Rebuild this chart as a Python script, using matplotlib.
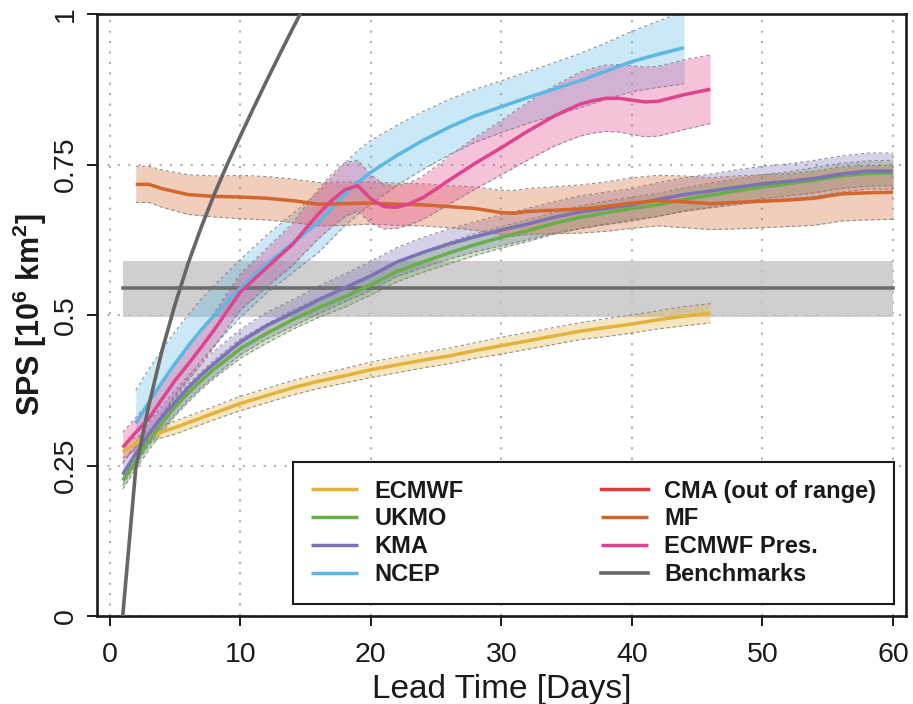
import matplotlib
matplotlib.use('Agg')
import matplotlib.pyplot as plt
import numpy as np

plt.rcParams['font.family'] = ['Liberation Sans', 'DejaVu Sans']
plt.rcParams['mathtext.fontset'] = 'custom'
plt.rcParams['mathtext.rm'] = 'Liberation Sans'
plt.rcParams['mathtext.bf'] = 'Liberation Sans:bold'

# ---- data ----
ecmwf_days = [1, 2, 3, 4, 5, 6, 8, 10, 12, 14, 16, 18, 20, 22, 24, 26, 28, 30,
              32, 34, 36, 38, 40, 42, 44, 46]
ecmwf_sps = [0.272, 0.287, 0.298, 0.306, 0.313, 0.321, 0.337, 0.353, 0.366, 0.379,
             0.390, 0.399, 0.409, 0.417, 0.425, 0.432, 0.441, 0.449, 0.457, 0.465,
             0.473, 0.479, 0.485, 0.492, 0.498, 0.503]
ecmwf_spread = [0.010, 0.010, 0.010, 0.010, 0.011, 0.011, 0.011, 0.012, 0.012, 0.012,
                0.012, 0.012, 0.013, 0.013, 0.013, 0.013, 0.013, 0.014, 0.014, 0.014,
                0.014, 0.015, 0.015, 0.015, 0.016, 0.016]

long_days = [1, 2, 3, 4, 5, 6, 7, 8, 10, 12, 14, 16, 18, 20, 22, 24, 26, 28, 30,
             32, 34, 36, 38, 40, 42, 44, 46, 48, 50, 52, 54, 56, 58, 60]
ukmo_sps = [0.225, 0.258, 0.291, 0.320, 0.347, 0.370, 0.391, 0.410, 0.444, 0.469,
            0.492, 0.512, 0.530, 0.550, 0.572, 0.588, 0.603, 0.617, 0.629, 0.640,
            0.652, 0.662, 0.670, 0.677, 0.683, 0.692, 0.699, 0.706, 0.713, 0.718,
            0.724, 0.731, 0.735, 0.736]
ukmo_spread = [0.014, 0.014, 0.015, 0.015, 0.015, 0.015, 0.015, 0.015, 0.016, 0.016,
               0.016, 0.016, 0.017, 0.017, 0.017, 0.017, 0.018, 0.018, 0.018, 0.018,
               0.018, 0.019, 0.019, 0.019, 0.019, 0.019, 0.020, 0.020, 0.020, 0.020,
               0.021, 0.021, 0.021, 0.021]
kma_sps = [0.235, 0.270, 0.302, 0.330, 0.355, 0.379, 0.400, 0.419, 0.455, 0.482,
           0.503, 0.525, 0.545, 0.565, 0.588, 0.604, 0.618, 0.630, 0.641, 0.651,
           0.662, 0.671, 0.677, 0.683, 0.692, 0.700, 0.706, 0.712, 0.718, 0.722,
           0.727, 0.734, 0.739, 0.739]
kma_spread = [0.018, 0.018, 0.019, 0.019, 0.020, 0.020, 0.020, 0.021, 0.021, 0.022,
              0.022, 0.023, 0.023, 0.024, 0.024, 0.025, 0.025, 0.025, 0.026, 0.026,
              0.026, 0.027, 0.027, 0.027, 0.028, 0.028, 0.028, 0.029, 0.029, 0.029,
              0.030, 0.030, 0.030, 0.030]

ncep_days = [2, 3, 4, 5, 6, 7, 8, 10, 12, 14, 16, 18, 19, 20, 22, 24, 26, 28, 30,
             32, 34, 36, 38, 40, 42, 44]
ncep_sps = [0.320, 0.355, 0.388, 0.419, 0.448, 0.475, 0.499, 0.544, 0.584, 0.619,
            0.654, 0.700, 0.720, 0.737, 0.765, 0.790, 0.812, 0.831, 0.846, 0.861,
            0.875, 0.889, 0.905, 0.921, 0.933, 0.944]
ncep_spread = [0.055, 0.055, 0.054, 0.053, 0.052, 0.051, 0.050, 0.048, 0.048, 0.049,
               0.050, 0.052, 0.053, 0.053, 0.050, 0.048, 0.046, 0.044, 0.043, 0.043,
               0.044, 0.045, 0.047, 0.050, 0.055, 0.060]

mf_days = [2, 3, 4, 5, 6, 8, 10, 12, 14, 16, 18, 20, 22, 24, 26, 28, 30, 31, 32,
           34, 36, 38, 40, 42, 44, 46, 48, 50, 52, 54, 56, 58, 60]
mf_sps = [0.717, 0.717, 0.710, 0.705, 0.700, 0.697, 0.696, 0.694, 0.690, 0.684,
          0.685, 0.686, 0.684, 0.683, 0.680, 0.677, 0.670, 0.669, 0.672, 0.674,
          0.676, 0.680, 0.686, 0.690, 0.688, 0.685, 0.687, 0.689, 0.691, 0.694,
          0.701, 0.703, 0.704]
mf_spread = [0.030, 0.030, 0.031, 0.032, 0.033, 0.034, 0.036, 0.036, 0.036, 0.036,
             0.036, 0.035, 0.035, 0.035, 0.035, 0.036, 0.037, 0.038, 0.038, 0.039,
             0.040, 0.041, 0.042, 0.042, 0.043, 0.043, 0.044, 0.044, 0.044, 0.045,
             0.045, 0.045, 0.045]

pres_days = [1, 2, 3, 4, 5, 6, 7, 8, 10, 12, 14, 15, 16, 17, 18, 19, 20, 21, 22,
             23, 24, 25, 26, 28, 30, 32, 34, 36, 37, 38, 39, 40, 41, 42, 44, 46]
pres_sps = [0.280, 0.305, 0.328, 0.360, 0.391, 0.418, 0.446, 0.475, 0.538, 0.578,
            0.617, 0.643, 0.668, 0.690, 0.708, 0.715, 0.693, 0.680, 0.679, 0.685,
            0.695, 0.709, 0.724, 0.752, 0.778, 0.805, 0.830, 0.850, 0.856, 0.860,
            0.860, 0.857, 0.854, 0.855, 0.866, 0.875]
pres_spread = [0.025, 0.025, 0.026, 0.026, 0.027, 0.027, 0.028, 0.028, 0.030, 0.032,
               0.035, 0.038, 0.041, 0.044, 0.045, 0.042, 0.040, 0.037, 0.035, 0.035,
               0.036, 0.038, 0.040, 0.043, 0.045, 0.048, 0.050, 0.053, 0.054, 0.055,
               0.056, 0.057, 0.058, 0.058, 0.058, 0.057]

bench_days = [1, 2, 3, 4, 5, 6, 7, 8, 9, 10, 11, 12, 13, 14, 15]
bench_curve = [0.0, 0.245, 0.350, 0.440, 0.517, 0.585, 0.645, 0.700, 0.750, 0.797,
               0.843, 0.888, 0.932, 0.975, 1.017]
bench_level_days = [1, 60]
bench_level = 0.545
bench_low, bench_high = 0.497, 0.590

colors = {'ECMWF': '#E3B23C', 'UKMO': '#6AAE4A', 'KMA': '#7B72B8', 'NCEP': '#5BB8E4',
          'CMA (out of range)': '#E0383C', 'MF': '#D4652C', 'ECMWF Pres.': '#E0428C',
          'Benchmarks': '#666666'}

fig = plt.figure(figsize=(9.13, 7.04), dpi=100)
ax = fig.add_axes([97 / 913, 1 - 616 / 704, 809 / 913, 602 / 704])

# benchmark band
ax.fill_between(bench_level_days, bench_low, bench_high, color='#C4C4C4', alpha=0.8,
                lw=0, zorder=1)
ax.plot(bench_level_days, [bench_level, bench_level], color='#6E6E6E', lw=2.6, zorder=3)


def band(days, mean, spread, col):
    d = np.array(days)
    m = np.array(mean)
    s = np.array(spread)
    ax.fill_between(d, m - s, m + s, color=col, alpha=0.32, lw=0, zorder=2)
    for edge in (m - s, m + s):
        ax.plot(d, edge, color='#7a7a7a', lw=0.8, ls=(0, (3, 2.5)), alpha=0.8, zorder=2)


series = [('ECMWF', ecmwf_days, ecmwf_sps, ecmwf_spread),
          ('UKMO', long_days, ukmo_sps, ukmo_spread),
          ('KMA', long_days, kma_sps, kma_spread),
          ('NCEP', ncep_days, ncep_sps, ncep_spread),
          ('MF', mf_days, mf_sps, mf_spread),
          ('ECMWF Pres.', pres_days, pres_sps, pres_spread)]

for name, d, m, s in series:
    band(d, m, s, colors[name])

handles = {}
for name, d, m, s in series:
    handles[name], = ax.plot(d, m, color=colors[name], lw=2.5, zorder=4,
                             solid_capstyle='butt')

handles['CMA (out of range)'], = ax.plot([], [], color=colors['CMA (out of range)'], lw=2.5)
handles['Benchmarks'], = ax.plot(bench_days, bench_curve, color=colors['Benchmarks'],
                                 lw=2.6, zorder=5)

# axes styling
ax.set_xlim(-0.97, 61.0)
ax.set_ylim(0, 1)
ax.set_xticks([0, 10, 20, 30, 40, 50, 60])
ax.set_yticks([0, 0.25, 0.5, 0.75, 1])
ax.set_yticklabels(['0', '0.25', '0.5', '0.75', '1'])
for sp in ax.spines.values():
    sp.set_linewidth(1.9)
    sp.set_color('#1a1a1a')
ax.tick_params(axis='both', direction='out', length=7, width=1.4, colors='#1a1a1a',
               labelsize=20.5)
ax.tick_params(axis='x', pad=12)
ax.tick_params(axis='y', pad=6, labelrotation=90)
for lab in ax.get_yticklabels():
    lab.set_va('center')

ax.grid(True, color='#AFAFAF', ls=(0, (1, 4)), lw=1.5)
ax.set_axisbelow(True)

ax.set_xlabel('Lead Time [Days]', fontsize=24, labelpad=4, color='#1a1a1a')
ax.set_ylabel(r'SPS [10$^{\mathbf{6}}$ km$^{\mathbf{2}}$]', fontsize=22,
              fontweight='bold', labelpad=3, color='#1a1a1a')

order = ['ECMWF', 'UKMO', 'KMA', 'NCEP', 'CMA (out of range)', 'MF', 'ECMWF Pres.',
         'Benchmarks']
leg = ax.legend([handles[k] for k in order], order, ncol=2, loc='upper left',
                bbox_to_anchor=((293 - 97) / 809, (616 - 462) / 602),
                borderaxespad=0, frameon=True, fancybox=False, framealpha=1,
                edgecolor='#1a1a1a', prop={'weight': 'bold', 'size': 17},
                handlelength=2.0, handletextpad=0.7, columnspacing=5.8,
                labelspacing=0.2, borderpad=0.75)
leg.get_frame().set_linewidth(1.5)
for t in leg.get_texts():
    t.set_color('#1a1a1a')

fig.savefig('out.png', dpi=100)
